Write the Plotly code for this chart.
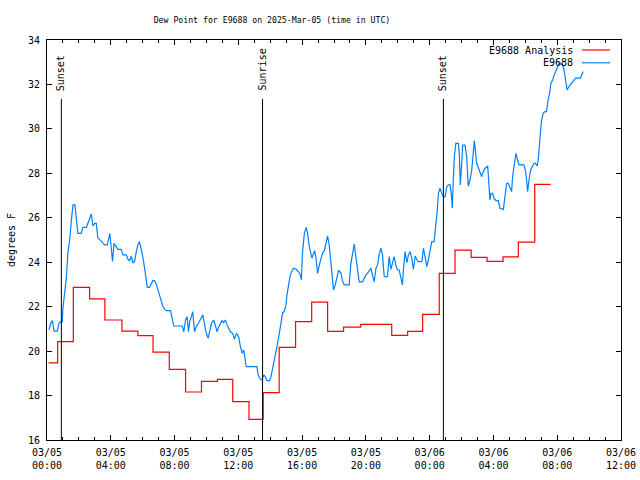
import pandas as pd
import plotly.graph_objects as go

# ---------------- data ----------------
base_time = "2025-03-05 00:00"

# Observed E9688 dew point (hours after 03/05 00:00 UTC, degrees F)
blue_hours = [0.13, 0.23, 0.34, 0.44, 0.65, 0.75, 0.86, 0.96, 1.0, 1.11, 1.21, 1.31, 1.42, 1.53, 1.63, 1.75,
              1.84, 1.94, 2.15, 2.25, 2.47, 2.57, 2.67, 2.78, 2.88, 2.99, 3.09, 3.19, 3.41, 3.61, 3.78, 3.88,
              3.94, 4.03, 4.11, 4.2, 4.32, 4.45, 4.66, 4.76, 4.97, 5.07, 5.18, 5.28, 5.39, 5.49, 5.6, 5.7,
              5.8, 5.91, 6.01, 6.12, 6.22, 6.29, 6.43, 6.54, 6.64, 6.74, 6.85, 6.95, 7.06, 7.16, 7.26, 7.37,
              7.48, 7.75, 7.85, 7.95, 8.48, 8.58, 8.69, 8.79, 8.87, 8.95, 9.06, 9.14, 9.25, 9.35, 9.56, 9.77,
              9.87, 9.98, 10.11, 10.21, 10.31, 10.46, 10.56, 10.67, 10.77, 10.98, 11.08, 11.19, 11.3, 11.5,
              11.65, 11.75, 11.88, 12.02, 12.13, 12.24, 12.34, 12.49, 13.17, 13.24, 13.38, 13.49, 13.59,
              13.69, 13.8, 13.96, 14.05, 14.15, 14.26, 14.36, 14.46, 14.57, 14.68, 14.78, 14.88, 14.99,
              15.05, 15.15, 15.26, 15.37, 15.47, 15.62, 15.78, 15.89, 15.95, 16.03, 16.14, 16.26, 16.34,
              16.45, 16.56, 16.62, 16.68, 16.78, 16.87, 16.97, 17.08, 17.18, 17.28, 17.39, 17.5, 17.6,
              17.7, 17.81, 17.89, 17.97, 18.08, 18.18, 18.28, 18.43, 18.53, 18.64, 18.95, 19.06, 19.16,
              19.27, 19.37, 19.47, 19.58, 19.79, 19.89, 20.0, 20.1, 20.21, 20.31, 20.41, 20.52, 20.63,
              20.73, 20.83, 20.94, 21.04, 21.15, 21.35, 21.46, 21.57, 21.67, 21.77, 21.88, 21.98, 22.09,
              22.19, 22.29, 22.35, 22.46, 22.57, 22.67, 22.77, 22.88, 22.98, 23.09, 23.19, 23.29, 23.51,
              23.61, 23.71, 23.82, 23.92, 24.03, 24.13, 24.28, 24.38, 24.48, 24.55, 24.65, 24.76, 24.86,
              24.97, 25.07, 25.17, 25.28, 25.36, 25.42, 25.49, 25.55, 25.64, 25.8, 25.86, 25.92, 26.01,
              26.07, 26.22, 26.32, 26.42, 26.53, 26.64, 26.74, 26.8, 26.95, 27.11, 27.26, 27.36, 27.47,
              27.64, 27.72, 27.78, 27.85, 27.95, 28.03, 28.16, 28.3, 28.41, 28.62, 28.72, 28.83, 28.93,
              29.04, 29.14, 29.2, 29.29, 29.41, 29.52, 29.6, 29.91, 30.02, 30.08, 30.14, 30.23, 30.33,
              30.43, 30.54, 30.64, 30.74, 30.81, 30.87, 30.96, 31.02, 31.12, 31.23, 31.33, 31.43, 31.54,
              31.6, 31.71, 31.81, 31.92, 32.02, 32.12, 32.23, 32.34, 32.42, 32.52, 32.62, 32.73, 32.84,
              32.94, 33.04, 33.15, 33.46, 33.56, 33.62]
blue_vals = [20.95, 21.25, 21.37, 20.9, 20.9, 21.25, 21.33, 21.33, 21.93, 22.75, 23.27, 24.4, 25.0, 25.9, 26.58, 26.58,
             25.98, 25.3, 25.3, 25.57, 25.57, 25.75, 25.98, 26.17, 25.63, 25.75, 25.75, 25.08, 24.95, 24.78, 24.78, 25.15,
             25.3, 24.63, 24.03, 24.85, 24.73, 24.58, 24.58, 24.33, 24.33, 24.15, 24.05, 24.28, 23.98, 24.03, 24.48, 24.78,
             24.93, 24.63, 24.25, 23.73, 23.2, 22.87, 22.87, 23.02, 23.17, 23.17, 23.02, 22.78, 22.48, 22.18, 22.03, 21.9,
             21.82, 21.82, 21.48, 21.13, 21.13, 20.87, 21.4, 21.55, 20.87, 21.33, 21.55, 21.78, 20.87, 21.1, 21.33, 21.63,
             21.25, 20.83, 20.58, 20.87, 21.25, 21.4, 21.18, 20.87, 21.1, 21.37, 21.28, 21.4, 21.18, 20.87,
             20.8, 20.53, 20.8, 20.65, 20.2, 19.9, 20.05, 19.3, 19.3, 18.93, 18.73, 18.7, 18.93,
             18.85, 18.67, 18.67, 18.85, 19.18, 19.6, 19.95, 20.35, 20.8, 21.28, 21.73, 21.78, 22.08,
             22.53, 23.05, 23.43, 23.62, 23.73, 23.68, 23.57, 23.43, 23.2, 24.48, 25.3, 25.57, 25.3,
             24.7, 24.33, 24.18, 24.33, 24.52, 24.18, 23.5, 23.88, 24.18, 24.4, 24.52, 24.85, 25.18,
             24.78, 24.03, 23.35, 22.75, 22.98, 23.27, 23.62, 23.53, 23.17, 22.98, 22.98, 23.95, 24.48,
             24.82, 24.25, 23.57, 23.12, 23.12, 23.27, 23.43, 23.5, 23.65, 23.73, 23.43, 23.12, 23.73,
             23.88, 24.33, 24.63, 24.33, 23.35, 23.35, 24.25, 23.68, 24.03, 24.25, 23.88, 23.65, 23.65,
             23.27, 22.98, 23.65, 24.48, 23.98, 24.33, 24.48, 24.18, 23.68, 24.28, 24.13, 24.03, 24.03,
             24.63, 24.25, 23.8, 24.1, 24.48, 24.93, 24.93, 25.6, 26.35, 27.1, 27.33, 27.1, 26.95,
             26.95, 27.4, 27.48, 27.48, 27.03, 26.43, 27.85, 28.75, 29.35, 29.35, 28.9, 27.48, 28.45,
             29.27, 29.27, 28.75, 27.43, 27.7, 28.15, 29.05, 29.46, 28.45, 28.15, 27.85, 28.08, 28.22,
             28.33, 27.55, 26.8, 27.1, 27.1, 26.88, 26.77, 26.77, 26.43, 26.38, 26.95, 27.55, 27.55,
             27.33, 27.18, 27.85, 28.38, 28.9, 28.6, 28.38, 28.38, 28.08, 27.7, 27.18, 27.7, 28.15,
             28.3, 28.45, 28.45, 28.33, 28.6, 29.35, 29.95, 30.4, 30.7, 30.78, 30.78, 31.3, 31.68,
             32.05, 32.2, 32.43, 32.65, 32.8, 32.95, 32.92, 32.88, 32.68, 32.2, 31.75, 31.9, 32.0,
             32.12, 32.23, 32.28, 32.28, 32.47, 32.58]

# E9688 Analysis (hourly steps)
red_hours = [0.1, 0.67, 1.65, 2.67, 3.63, 4.7, 5.7, 6.65, 7.67, 8.69, 9.69, 10.69, 11.65, 12.67, 13.56,
             14.56, 15.59, 16.6, 17.6, 18.6, 19.67, 21.62, 22.62, 23.56, 24.6, 25.59, 26.6, 27.6, 28.6,
             29.56, 30.59, 31.59]
red_vals = [19.47, 20.43, 22.87, 22.35, 21.4, 20.9, 20.7, 19.95, 19.18, 18.16, 18.64, 18.73, 17.73, 16.93, 18.13,
            20.17, 21.33, 22.2, 20.89, 21.08, 21.2, 20.71, 20.89, 21.65, 23.5, 24.54, 24.22, 24.04, 24.24,
            24.9, 27.5, 27.5]

sun_hours = [0.9, 13.52, 24.86]
sun_labels = ["Sunset", "Sunrise", "Sunset"]

tick_hours = [0, 4, 8, 12, 16, 20, 24, 28, 32, 36]
tick_labels = ["03/05<br>00:00", "03/05<br>04:00", "03/05<br>08:00", "03/05<br>12:00", "03/05<br>16:00",
               "03/05<br>20:00", "03/06<br>00:00", "03/06<br>04:00", "03/06<br>08:00", "03/06<br>12:00"]

series_names = ["E9688 Analysis", "E9688"]
series_colors = ["#ff0000", "#0080ff"]

# ---------------- figure ----------------
t0 = pd.Timestamp(base_time)
def to_time(hours):
    return [t0 + pd.to_timedelta(h, unit="h") for h in hours]

MONO = "DejaVu Sans Mono"

fig = go.Figure()
fig.add_trace(go.Scatter(x=to_time(red_hours), y=red_vals, mode="lines", name=series_names[0],
                         line=dict(color=series_colors[0], width=1.2, shape="hv")))
fig.add_trace(go.Scatter(x=to_time(blue_hours), y=blue_vals, mode="lines", name=series_names[1],
                         line=dict(color=series_colors[1], width=1.2)))

sun_top = 31.35
for h, lab in zip(to_time(sun_hours), sun_labels):
    fig.add_shape(type="line", x0=h, x1=h, y0=16, y1=sun_top, xref="x", yref="y",
                  line=dict(color="black", width=1))
    fig.add_annotation(x=h, y=31.62, xref="x", yref="y", text=lab, textangle=-90,
                       showarrow=False, xanchor="center", yanchor="bottom",
                       font=dict(family=MONO, size=10, color="black"))

# gnuplot-style key (text right-aligned, sample line to the right)
key_rows = [0.975, 0.943]
for name, col, yp in zip(series_names, series_colors, key_rows):
    fig.add_annotation(x=(575 - 47) / 574, y=yp, xref="paper", yref="paper", text=name,
                       showarrow=False, xanchor="right", yanchor="middle",
                       font=dict(family=MONO, size=10, color="black"))
    fig.add_shape(type="line", x0=(582 - 47) / 574, x1=(610 - 47) / 574, y0=yp, y1=yp,
                  xref="paper", yref="paper", line=dict(color=col, width=1.2))

fig.update_layout(
    width=640, height=480,
    margin=dict(l=47, r=19, t=40, b=40),
    paper_bgcolor="white", plot_bgcolor="white",
    showlegend=False,
    title=dict(text="Dew Point for E9688 on 2025-Mar-05 (time in UTC)", x=272 / 640, xanchor="center",
               y=1 - 20 / 480, yanchor="middle", font=dict(family=MONO, size=8.2, color="black")),
    font=dict(family=MONO, size=10, color="black"),
)
fig.update_xaxes(
    range=[t0, t0 + pd.to_timedelta(36, unit="h")],
    tickvals=to_time(tick_hours), ticktext=tick_labels,
    ticks="inside", ticklen=5, tickcolor="black", tickwidth=1,
    minor=dict(dtick=3600000, ticks="inside", ticklen=3, tickcolor="black", tickwidth=1),
    showline=True, linecolor="black", linewidth=1, mirror="allticks",
    showgrid=False, zeroline=False, automargin=False, ticklabelstandoff=3,
    tickfont=dict(family=MONO, size=10, color="black"),
)
fig.update_yaxes(
    range=[16, 34], dtick=2, tick0=16,
    ticks="inside", ticklen=5, tickcolor="black", tickwidth=1,
    showline=True, linecolor="black", linewidth=1, mirror="allticks",
    showgrid=False, zeroline=False, automargin=False, ticklabelstandoff=4,
    tickfont=dict(family=MONO, size=10, color="black"),
    title=dict(text="degrees F", font=dict(family=MONO, size=10, color="black"), standoff=10),
)

fig.write_html("out.html")
